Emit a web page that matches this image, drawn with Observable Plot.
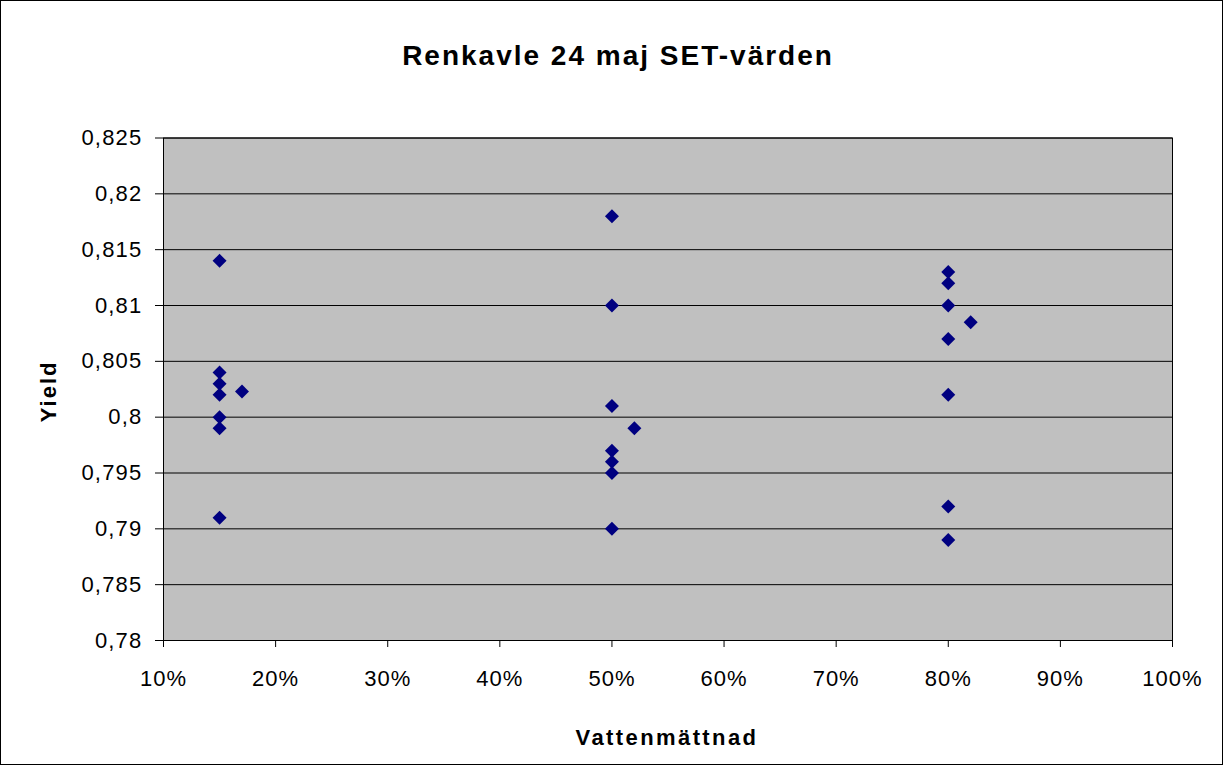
<!DOCTYPE html>
<html>
<head>
<meta charset="utf-8">
<script src="https://cdn.jsdelivr.net/npm/d3@7"></script>
<script src="https://cdn.jsdelivr.net/npm/@observablehq/plot@0.6"></script>
<style>
  body { margin: 0; background: #fff; }
  #chart { width: 1221px; height: 763px; border: 1px solid #000; background: #fff; }
  #chart svg { display: block; }
  #chart g[aria-label="x-axis tick label"] text { letter-spacing: 1px; }
  #chart g[aria-label="y-axis tick label"] text { letter-spacing: 1.2px; }
</style>
</head>
<body>
<div id="chart"></div>
<script>
const title = "Renkavle 24 maj SET-värden";
const xLabel = "Vattenmättnad";
const yLabel = "Yield";

// Vattenmättnad (fraction) and Yield values
const xValues = [0.15, 0.15, 0.15, 0.15, 0.15, 0.15, 0.15, 0.17,
                 0.50, 0.50, 0.50, 0.52, 0.50, 0.50, 0.50, 0.50,
                 0.80, 0.80, 0.80, 0.82, 0.80, 0.80, 0.80, 0.80];
const yValues = [0.814, 0.804, 0.803, 0.802, 0.800, 0.799, 0.791, 0.8023,
                 0.818, 0.810, 0.801, 0.799, 0.797, 0.796, 0.795, 0.790,
                 0.813, 0.812, 0.810, 0.8085, 0.807, 0.802, 0.792, 0.789];

const xTicks = [0.1, 0.2, 0.3, 0.4, 0.5, 0.6, 0.7, 0.8, 0.9, 1.0];
const xTickLabels = ["10%", "20%", "30%", "40%", "50%", "60%", "70%", "80%", "90%", "100%"];
const yTicks = [0.78, 0.785, 0.79, 0.795, 0.8, 0.805, 0.81, 0.815, 0.82, 0.825];
const yTickLabels = ["0,78", "0,785", "0,79", "0,795", "0,8", "0,805", "0,81", "0,815", "0,82", "0,825"];

const data = xValues.map((x, i) => ({x, y: yValues[i]}));
const font = "Arial, 'Liberation Sans', sans-serif";

const chart = Plot.plot({
  width: 1221,
  height: 763,
  marginLeft: 162,
  marginRight: 50,
  marginTop: 136.5,
  marginBottom: 124,
  style: {fontFamily: font, fontSize: "22px", color: "#000", background: "transparent"},
  x: {domain: [0.1, 1.0]},
  y: {domain: [0.78, 0.825]},
  marks: [
    Plot.frame({fill: "#C0C0C0", stroke: null}),
    Plot.gridY(yTicks, {stroke: "#000", strokeOpacity: 1, strokeWidth: 1}),
    Plot.frame({stroke: "#000", strokeWidth: 1}),
    Plot.axisX({
      ticks: xTicks, tickFormat: (d, i) => xTickLabels[i], tickSize: 7, tickPadding: 23,
      label: null, fontSize: 22, stroke: "#000"
    }),
    Plot.axisY({
      ticks: yTicks, tickFormat: (d, i) => yTickLabels[i], tickSize: 8, tickPadding: 13,
      label: null, fontSize: 22, stroke: "#000"
    }),
    Plot.dot(data, {x: "x", y: "y", symbol: "diamond2", r: 6.3, fill: "#000080", stroke: null}),
    Plot.text([title], {frameAnchor: "top", dx: -50, dy: -82, lineAnchor: "middle",
      fontSize: 28, fontWeight: "bold", fill: "#000"}),
    Plot.text([xLabel], {frameAnchor: "bottom", dx: -1, dy: 97, lineAnchor: "middle",
      fontSize: 22, fontWeight: "bold", fill: "#000"}),
    Plot.text([yLabel], {frameAnchor: "left", dx: -115, dy: 33, rotate: -90, lineAnchor: "middle",
      fontSize: 22, fontWeight: "bold", fill: "#000"})
  ]
});

// widen the label lettering to match the stretched original text
const spacing = new Map([[title, "2px"], [xLabel, "2.4px"], [yLabel, "2px"]]);
d3.select(chart).selectAll("text").each(function() {
  const s = spacing.get(this.textContent);
  if (s) this.style.letterSpacing = s;
});

document.getElementById("chart").appendChild(chart);
</script>
</body>
</html>
